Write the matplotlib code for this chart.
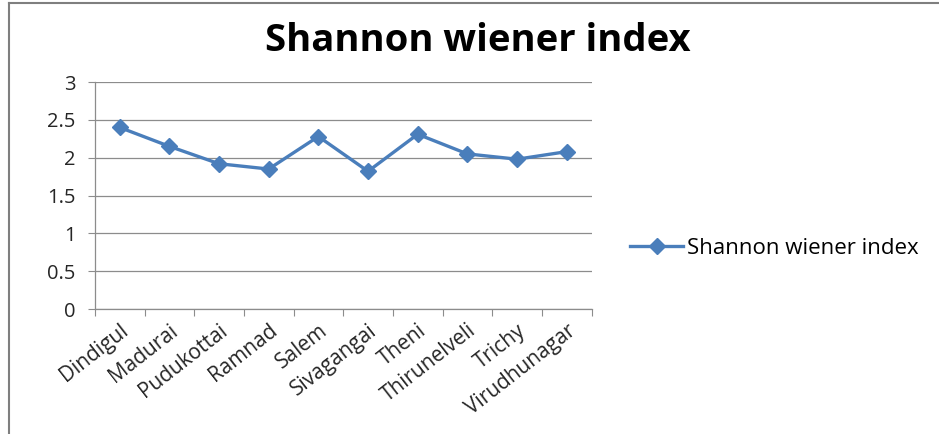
import matplotlib
matplotlib.use("Agg")
import matplotlib.pyplot as plt
from matplotlib.lines import Line2D
import numpy as np

categories = ["Dindigul", "Madurai", "Pudukottai", "Ramnad", "Salem",
              "Sivagangai", "Theni", "Thirunelveli", "Trichy", "Virudhunagar"]
values = [2.40, 2.15, 1.92, 1.85, 2.28, 1.82, 2.31, 2.05, 1.98, 2.08]
series_name = "Shannon wiener index"
title = "Shannon wiener index"
yticks = [0, 0.5, 1, 1.5, 2, 2.5, 3]

plt.rcParams['font.family'] = ['Open Sans', 'DejaVu Sans']

fig = plt.figure(figsize=(9.39, 4.34), dpi=100)
ax = fig.add_axes([0.101, 0.288, 0.529, 0.523])

x = np.arange(len(categories))
ax.plot(x, values, color='#4A7EBB', linewidth=2.4, marker='D', markersize=8,
        markerfacecolor='#4A7EBB', markeredgecolor='#4A7EBB', label=series_name)

ax.set_xlim(-0.5, len(categories) - 0.5)
ax.set_ylim(0, 3)
ax.set_yticks(yticks)
ax.set_yticklabels([f"{t:g}" for t in yticks], fontsize=14.5, color='#262626')
ax.yaxis.grid(True, color='#8C8C8C', linewidth=0.9)
ax.set_axisbelow(True)

ax.set_xticks(np.arange(len(categories) + 1) - 0.5)
ax.set_xticklabels([])
ax.set_xticks(x, minor=True)
ax.set_xticklabels(categories, minor=True, rotation=38, ha='right',
                   rotation_mode='anchor', fontsize=15, color='#262626')
ax.tick_params(axis='x', which='minor', length=0, pad=8)
ax.tick_params(axis='x', which='major', length=5, color='#8C8C8C', direction='out')
ax.tick_params(axis='y', length=5, color='#8C8C8C', direction='out', pad=9)

for s in ['top', 'right']:
    ax.spines[s].set_visible(False)
for s in ['left', 'bottom']:
    ax.spines[s].set_color('#8C8C8C')
    ax.spines[s].set_linewidth(0.9)

fig.text(0.509, 0.905, title, ha='center', va='center', fontsize=27.5,
         fontweight='bold', color='black')

ax.legend(loc='center left', bbox_to_anchor=(630 / 939, 1 - 248 / 434),
          bbox_transform=fig.transFigure, frameon=False, borderpad=0,
          borderaxespad=0, fontsize=16, handlelength=2.4, handletextpad=0.15)

# outer chart border (visible on left and top only)
fig.add_artist(Line2D([8.5 / 939, 8.5 / 939], [0, 1 - 3 / 434], transform=fig.transFigure,
                      color='#7F7F7F', linewidth=1.5))
fig.add_artist(Line2D([8.5 / 939, 1], [1 - 3 / 434, 1 - 3 / 434], transform=fig.transFigure,
                      color='#7F7F7F', linewidth=1.5))

fig.savefig("out.png", dpi=100)
